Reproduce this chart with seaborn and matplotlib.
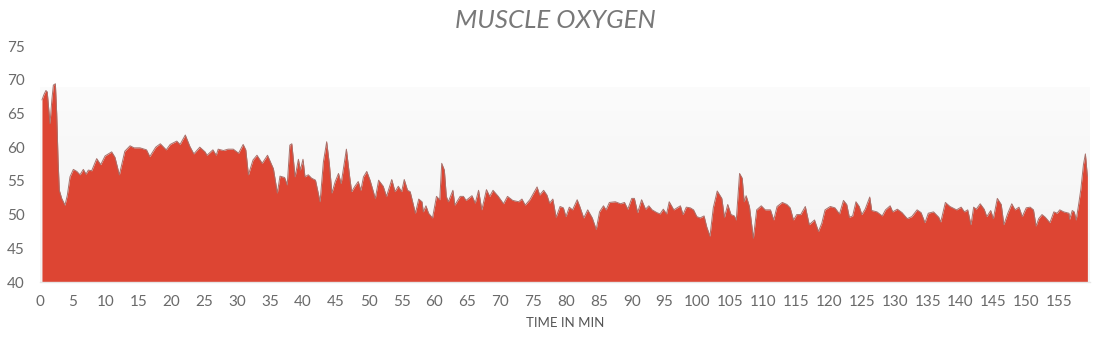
import numpy as np
import pandas as pd
import matplotlib
matplotlib.use("Agg")
import matplotlib.pyplot as plt
import seaborn as sns

# ---- data ----
minutes = [
    0.3, 0.6, 0.9, 1.1, 1.3, 1.52, 1.8, 2.03, 2.34, 2.54, 2.75, 2.94, 3.3, 3.8, 4.16, 4.56, 5.07, 5.6, 6.08, 6.59,
    7.0, 7.35, 7.86, 8.62, 9.23, 9.9, 10.9, 11.4, 12.07, 12.9, 13.7, 14.3, 15.2, 16.2, 16.7, 17.6, 18.3, 19.2, 19.8, 20.8,
    21.3, 22.1, 22.8, 23.4, 24.3, 25.1, 25.4, 26.3, 26.8, 27.1, 27.9, 28.6, 29.4, 30.2, 30.9, 31.3, 31.7, 32.4, 33.0, 33.8,
    34.6, 35.5, 36.1, 36.5, 37.2, 37.6, 38.0, 38.3, 38.8, 39.3, 39.6, 40.0, 40.3, 40.8, 41.3, 41.9, 42.6, 43.1, 43.6, 44.0,
    44.4, 44.9, 45.4, 45.8, 46.6, 47.1, 47.4, 47.9, 48.4, 48.8, 49.2, 49.7, 50.2, 51.0, 51.5, 52.2, 52.7, 53.5, 54.0, 54.5,
    55.0, 55.4, 55.9, 56.3, 57.1, 57.6, 58.1, 58.3, 58.7, 59.1, 59.7, 60.3, 60.8, 61.1, 61.5, 61.8, 62.1, 62.8, 63.1, 63.9,
    64.4, 64.8, 65.7, 66.2, 66.7, 67.2, 67.9, 68.4, 68.9, 69.7, 70.5, 71.1, 71.9, 72.8, 73.3, 73.8, 74.5, 75.6, 76.0, 76.6,
    77.1, 77.5, 78.0, 78.5, 79.1, 79.6, 80.0, 80.5, 81.0, 81.7, 82.1, 82.7, 83.3, 84.0, 84.6, 85.1, 85.7, 86.1, 86.6, 87.5,
    88.3, 88.9, 89.4, 90.0, 90.4, 90.9, 91.5, 92.1, 92.6, 93.1, 93.8, 94.3, 94.8, 95.3, 95.7, 96.4, 96.9, 97.4, 97.8, 98.3,
    98.9, 99.4, 99.9, 100.4, 101.0, 101.4, 101.9, 102.4, 103.0, 103.7, 104.1, 104.6, 105.1, 105.6, 105.9, 106.4, 106.8, 107.1, 107.4, 107.9,
    108.5, 109.0, 109.7, 110.3, 111.1, 111.6, 112.1, 112.9, 113.6, 114.1, 114.6, 115.1, 115.7, 116.4, 117.0, 117.8, 118.4, 118.9, 119.4, 120.2,
    120.9, 121.6, 122.2, 122.7, 123.1, 123.6, 124.1, 124.6, 125.0, 125.5, 126.2, 126.5, 127.3, 128.1, 128.6, 129.3, 129.7, 130.4, 131.1, 131.9,
    132.6, 133.4, 134.0, 134.6, 135.1, 135.9, 136.7, 137.0, 137.7, 138.4, 139.4, 140.1, 140.6, 141.1, 141.6, 142.0, 142.4, 143.0, 143.6, 144.0,
    144.6, 145.0, 145.6, 146.2, 146.6, 147.2, 147.8, 148.3, 148.9, 149.4, 150.0, 150.6, 151.1, 151.5, 151.9, 152.4, 152.9, 153.6, 154.2, 154.7,
    155.1, 155.7, 156.5, 156.6, 157.0, 157.3, 157.6, 158.0, 158.3, 158.7, 159.0, 159.3,
]
muscle_o2 = [
    67.0, 67.8, 68.4, 68.2, 66.0, 63.5, 67.0, 69.2, 69.4, 65.0, 58.0, 53.6, 52.4, 51.4, 52.9, 55.6, 56.7, 56.4, 55.9, 56.7,
    56.0, 56.6, 56.5, 58.3, 57.4, 58.7, 59.3, 58.5, 55.9, 59.4, 60.2, 59.9, 59.9, 59.6, 58.6, 60.0, 60.5, 59.6, 60.4, 60.9,
    60.4, 61.8, 60.1, 59.0, 60.0, 59.3, 58.8, 59.6, 58.8, 59.7, 59.5, 59.7, 59.7, 59.1, 60.4, 59.6, 55.9, 58.1, 58.8, 57.6,
    58.8, 56.8, 53.2, 55.7, 55.5, 54.4, 60.3, 60.5, 55.6, 58.2, 56.6, 58.2, 55.6, 55.9, 55.4, 55.1, 51.9, 57.8, 60.8, 57.6,
    53.2, 54.9, 56.1, 54.6, 59.7, 55.6, 53.4, 54.2, 54.9, 53.6, 55.6, 56.4, 55.1, 52.4, 55.1, 54.2, 52.7, 55.2, 53.4, 54.2,
    53.4, 55.2, 53.6, 53.4, 50.2, 52.3, 51.9, 50.4, 51.3, 50.2, 49.5, 52.7, 52.2, 57.6, 56.6, 52.7, 51.9, 53.6, 51.4, 52.7,
    52.7, 52.1, 52.8, 51.7, 53.6, 50.7, 53.7, 52.7, 53.6, 52.7, 51.6, 52.7, 52.1, 51.9, 52.3, 51.4, 52.2, 54.1, 52.9, 53.6,
    52.9, 51.7, 52.3, 49.6, 51.2, 51.0, 49.7, 51.1, 50.7, 52.2, 51.2, 49.5, 50.7, 49.5, 47.8, 50.4, 51.3, 50.7, 51.8, 51.9,
    51.6, 51.8, 50.8, 52.4, 52.4, 50.3, 52.2, 50.8, 51.3, 50.7, 50.3, 50.1, 50.8, 50.1, 51.9, 50.7, 51.0, 51.3, 50.0, 51.1,
    51.0, 50.7, 49.7, 49.5, 49.8, 48.2, 46.8, 51.0, 53.5, 52.4, 49.6, 51.5, 50.0, 49.8, 49.2, 56.1, 55.4, 51.9, 52.8, 51.2,
    46.5, 50.7, 51.3, 50.7, 50.7, 49.2, 51.2, 51.8, 51.5, 51.0, 49.2, 50.0, 50.0, 51.2, 48.5, 49.2, 47.5, 48.7, 50.7, 51.2,
    51.0, 50.1, 52.1, 51.5, 49.6, 49.8, 51.9, 51.2, 50.0, 50.8, 52.6, 50.6, 50.4, 49.8, 50.7, 51.3, 50.4, 50.8, 50.3, 49.4,
    49.7, 50.7, 50.3, 48.8, 50.2, 50.4, 49.6, 48.9, 51.8, 51.2, 50.7, 51.1, 50.4, 50.7, 48.5, 51.1, 50.8, 51.6, 50.8, 49.7,
    50.6, 49.4, 52.4, 51.5, 48.5, 50.2, 51.6, 50.7, 51.1, 49.7, 51.0, 51.1, 50.7, 48.3, 49.4, 50.0, 49.6, 48.8, 50.4, 50.2,
    50.7, 50.4, 50.2, 49.3, 50.6, 50.4, 49.2, 51.7, 53.7, 57.4, 59.0, 55.7,
]
x_ticks = list(range(0, 160, 5))
y_ticks = list(range(40, 80, 5))
title = "MUSCLE OXYGEN"
x_label = "TIME IN MIN"

df = pd.DataFrame({"minute": minutes, "smo2": muscle_o2})

sns.set_theme(style="white")
plt.rcParams["font.family"] = ["Lato", "DejaVu Sans"]

fig = plt.figure(figsize=(11.10, 3.44), dpi=100)
ax = fig.add_axes([40 / 1110, 62 / 344, 1050 / 1110, 236 / 344])

XMAX = 159.7
ax.set_xlim(0, XMAX)
ax.set_ylim(40, 75)

# light gray background band
grad = np.linspace(1.0, 0.0, 64).reshape(-1, 1)
cmap = matplotlib.colors.LinearSegmentedColormap.from_list("bg", ["#fbfbfb", "#f3f3f3"])
ax.imshow(grad, extent=(0, XMAX, 40, 68.8), aspect="auto", cmap=cmap, origin="lower", zorder=0)

red = "#dd4533"
ax.fill_between(df["minute"], 40, df["smo2"], color=red, linewidth=0, zorder=2)
sns.lineplot(data=df, x="minute", y="smo2", ax=ax, color="#a8706a", linewidth=0.7, zorder=3)

ax.set_xticks(x_ticks)
ax.set_yticks(y_ticks)
ax.tick_params(axis="both", length=0, labelsize=11, labelcolor="#6a6a6a")
ax.tick_params(axis="x", pad=9)
ax.tick_params(axis="y", pad=11)

for s in ["top", "right", "left"]:
    ax.spines[s].set_visible(False)
ax.spines["bottom"].set_color("#e6e6e6")
ax.spines["bottom"].set_linewidth(1.0)
ax.grid(False)

ax.set_xlabel(x_label, fontsize=9.5, color="#555555", labelpad=6)
ax.set_ylabel("")
fig.text(555 / 1110, 1 - 21 / 344, title, ha="center", va="center", fontsize=18.5,
         color="#787878", style="italic", fontweight="normal", family=["Lato", "DejaVu Sans"])

fig.savefig("out.png", dpi=100)
